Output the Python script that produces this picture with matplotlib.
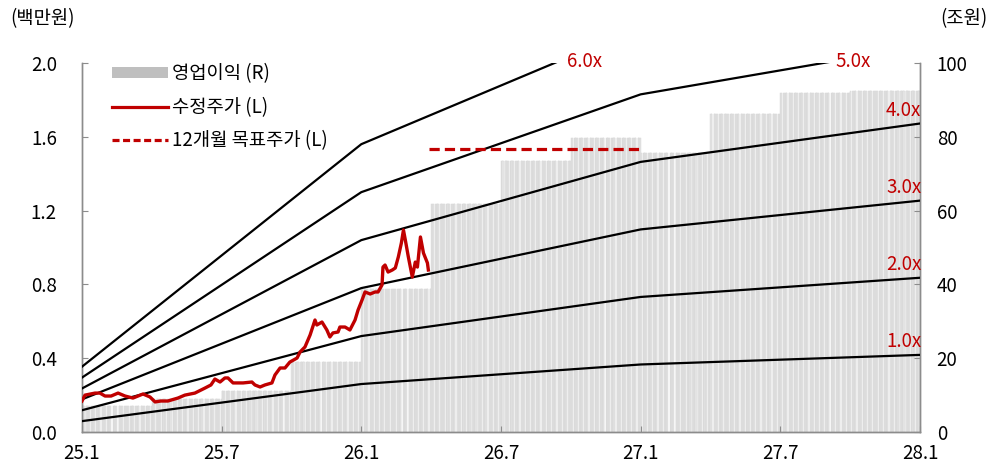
import matplotlib
matplotlib.use("Agg")
import matplotlib.pyplot as plt
import numpy as np
import pandas as pd
from matplotlib.patches import Patch
from matplotlib.lines import Line2D

plt.rcParams['font.family'] = ['Noto Sans CJK KR', 'DejaVu Sans']

RED = "#c00000"
GRAY_SPINE = "#8c8c8c"
FS = 13.5

# x positions are months since 25.1
xtick_pos = [0, 6, 12, 18, 24, 30, 36]
xtick_labels = ["25.1", "25.7", "26.1", "26.7", "27.1", "27.7", "28.1"]

# quarterly operating profit (조원), 25.1Q .. 27.4Q
op_profit = [7.0, 8.9, 11.2, 19.0, 38.8, 61.8, 73.4, 79.7, 75.6, 86.2, 92.0, 92.4]

# PER band: 1.0x price (백만원) at 25.1, 26.1, 27.1, 28.1
band_x = [0, 12, 24, 36]
band_base = [0.059, 0.26, 0.366, 0.418]
band_mult = [1.0, 2.0, 3.0, 4.0, 5.0, 6.0]

# adjusted stock price (백만원)
price_x = [0.00, 0.13, 0.56, 0.77, 0.99, 1.25, 1.55, 1.85, 2.19, 2.62, 2.92, 3.14,
           3.39, 3.69, 4.12, 4.42, 4.85, 5.28, 5.54, 5.71, 5.93, 6.14, 6.27, 6.49,
           6.92, 7.30, 7.43, 7.65, 7.86, 8.16, 8.29, 8.51, 8.72, 8.93, 9.24, 9.37,
           9.58, 9.80, 10.01, 10.09, 10.31, 10.52, 10.65, 10.78, 11.00, 11.08, 11.30,
           11.51, 11.73, 11.86, 12.03, 12.16, 12.38, 12.59, 12.72, 12.89, 12.93, 13.02,
           13.15, 13.33, 13.46, 13.59, 13.72, 13.81, 13.89, 14.02, 14.19, 14.32, 14.41,
           14.54, 14.67, 14.84, 14.88]
price_y = [0.168, 0.200, 0.211, 0.211, 0.195, 0.195, 0.211, 0.195, 0.184, 0.206, 0.190, 0.163,
           0.168, 0.168, 0.184, 0.200, 0.211, 0.238, 0.255, 0.287, 0.271, 0.293, 0.293, 0.266,
           0.266, 0.271, 0.255, 0.244, 0.255, 0.266, 0.309, 0.347, 0.347, 0.379, 0.401, 0.434,
           0.461, 0.526, 0.607, 0.580, 0.596, 0.553, 0.515, 0.537, 0.542, 0.569, 0.569,
           0.553, 0.607, 0.661, 0.715, 0.759, 0.748, 0.759, 0.759, 0.797, 0.894, 0.905,
           0.867, 0.878, 0.889, 0.949, 1.024, 1.095, 1.041, 0.949, 0.840, 0.921, 0.894,
           1.057, 0.970, 0.916, 0.878]

# 12-month target price (백만원)
target_x = [14.9, 24.0]
target_y = [1.535, 1.535]

# daily bars: each business day carries its quarter's operating profit
days = pd.bdate_range("2025-01-01", "2027-12-31")
day_x = ((days.year - 2025) * 12 + days.month - 1
         + (days.day - 1) / days.days_in_month).to_numpy()
day_q = (((days.year - 2025) * 12 + days.month - 1) // 3).to_numpy()
day_val = np.array(op_profit)[day_q]
step = 36 / len(days)

fig, ax = plt.subplots(figsize=(9.95, 4.68), dpi=100)
fig.subplots_adjust(left=0.0824, right=0.9246, bottom=0.0769, top=0.8654)
ax2 = ax.twinx()

ax2.bar(day_x, day_val, width=step, align="edge", color="#e8e8e8",
        edgecolor="#d4d4d4", linewidth=0.3)
ax2.set_ylim(0, 100)
ax2.set_yticks(np.arange(0, 101, 20))

ax.set_zorder(ax2.get_zorder() + 1)
ax.patch.set_visible(False)

for m in band_mult:
    yb = [m * b for b in band_base]
    ax.plot(band_x, yb, color="black", lw=1.6, zorder=3)
    lab = f"{m:.1f}x"
    if yb[-1] <= 2.0:
        ax.annotate(lab, (36, yb[-1]), xytext=(1, 2), textcoords="offset points",
                    ha="right", va="bottom", color=RED, fontsize=FS)
    else:
        # where the band crosses the top of the axis
        xc = np.interp(2.0, yb, band_x)
        ax.annotate(lab, (xc, 2.0), xytext=(9, 1), textcoords="offset points",
                    ha="left", va="center", color=RED, fontsize=FS, annotation_clip=False)

ax.plot(price_x, price_y, color=RED, lw=2.4, zorder=4)
ax.plot(target_x, target_y, color=RED, lw=2.3, dashes=(3.2, 1.6), zorder=4)

ax.set_xlim(0, 36)
ax.set_ylim(0, 2.0)
ax.set_xticks(xtick_pos)
ax.set_xticklabels(xtick_labels)
ax.set_yticks(np.arange(0, 2.01, 0.4))
ax.set_yticklabels([f"{v:.1f}" for v in np.arange(0, 2.01, 0.4)])

for a in (ax, ax2):
    a.spines['top'].set_visible(False)
    for s in ('left', 'right', 'bottom'):
        a.spines[s].set_color(GRAY_SPINE)
        a.spines[s].set_linewidth(1.0)
    a.tick_params(direction="in", length=4, color=GRAY_SPINE, labelsize=FS,
                  labelcolor="black")
ax.tick_params(axis="y", pad=18)
ax.tick_params(axis="x", pad=8)
ax2.tick_params(axis="y", pad=12)

fig.text(0.010, 0.960, "(백만원)", fontsize=FS, ha="left", va="center")
fig.text(0.992, 0.960, "(조원)", fontsize=FS, ha="right", va="center")

handles = [Patch(facecolor="#bfbfbf", edgecolor="none"),
           Line2D([], [], color=RED, lw=2.3),
           Line2D([], [], color=RED, lw=2.3, dashes=(2.2, 1.1))]
labels = ["영업이익 (R)", "수정주가 (L)", "12개월 목표주가 (L)"]
ax.legend(handles, labels, loc="upper left", bbox_to_anchor=(0.036, 1.0),
          frameon=False, fontsize=FS, handlelength=3.0, handleheight=0.55,
          handletextpad=0.2, labelspacing=0.68, borderpad=0, borderaxespad=0)

fig.savefig("out.png", dpi=100)
